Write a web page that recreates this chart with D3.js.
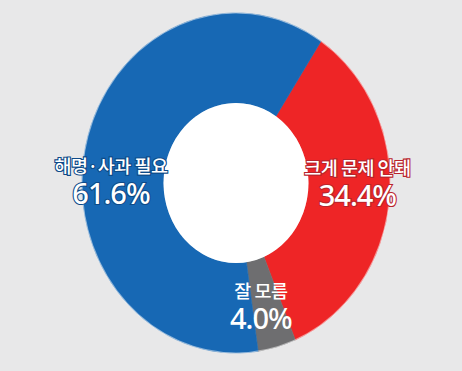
<!DOCTYPE html>
<html>
<head>
<meta charset="utf-8">
<script src="https://cdn.jsdelivr.net/npm/d3@7"></script>
<style>
    body { margin: 0; background: #e8e8e9; }
    svg { display: block; }
</style>
</head>
<body>
<div id="wrapper"></div>
<script>
// poll answers, clockwise from the top-right
const labels = ["크게 문제 안돼", "잘 모름", "해명·사과 필요"];
const values = [34.4, 4.0, 61.6];
const colors = ["#ee2526", "#6e6e70", "#1768b4"];
const strokes = ["#b8242c", "none", "#0e4a88"];

let dimension = {
    width: 462,
    height: 371,
    cx: 236,
    cy: 183,
    outer: 170,
    inner: 80,
    squeeze: 0.906
}

// where each label sits: angle (deg from top) and radius along the ring
const labelPlace = [
    { angle: 90, r: 134 },
    { angle: 167.4, r: 126 },
    { angle: 271, r: 138 }
];

function buildPlot() {
    d3.select("svg").remove();
    const svg = d3.select("#wrapper").append("svg")
        .attr("width", dimension.width)
        .attr("height", dimension.height);

    const data = labels.map((l, i) => ({ label: l, value: values[i], i: i }));

    const startAngle = 33.5 * Math.PI / 180;
    const pie = d3.pie()
        .sort(null)
        .value(d => d.value)
        .startAngle(startAngle)
        .endAngle(startAngle + 2 * Math.PI);

    const arc = d3.arc()
        .innerRadius(dimension.inner)
        .outerRadius(dimension.outer);

    const ring = svg.append("g")
        .attr("transform", `translate(${dimension.cx},${dimension.cy}) scale(${dimension.squeeze},1)`);

    ring.selectAll("path")
        .data(pie(data))
        .enter()
        .append("path")
        .attr("d", arc)
        .attr("fill", d => colors[d.data.i])
        .attr("stroke", d => colors[d.data.i])
        .attr("stroke-width", 0.6);

    // thin light rim
    ring.append("circle")
        .attr("r", dimension.outer)
        .attr("fill", "none")
        .attr("stroke", "#ffffff")
        .attr("stroke-opacity", 0.45)
        .attr("stroke-width", 1.2);

    ring.append("circle")
        .attr("r", dimension.inner)
        .attr("fill", "#ffffff");

    const text = svg.append("g")
        .attr("transform", `translate(${dimension.cx},${dimension.cy})`);

    const groups = text.selectAll("g.lbl")
        .data(data)
        .enter()
        .append("g")
        .attr("class", "lbl")
        .attr("transform", d => {
            const p = labelPlace[d.i];
            const a = p.angle * Math.PI / 180;
            const x = Math.sin(a) * p.r * dimension.squeeze;
            const y = -Math.cos(a) * p.r;
            return `translate(${x},${y})`;
        });

    groups.append("text")
        .attr("text-anchor", "middle")
        .attr("y", -8)
        .attr("font-family", "'Noto Sans CJK KR', 'Noto Sans', sans-serif")
        .attr("font-weight", 500)
        .attr("font-size", 18.5)
        .attr("letter-spacing", -0.5)
        .attr("fill", "#ffffff")
        .attr("stroke", d => strokes[d.i])
        .attr("stroke-width", 2.2)
        .attr("paint-order", "stroke")
        .text(d => d.label);

    groups.append("text")
        .attr("text-anchor", "middle")
        .attr("y", 23)
        .attr("font-family", "'Noto Sans', 'Open Sans', sans-serif")
        .attr("font-weight", 500)
        .attr("font-size", 29)
        .attr("letter-spacing", -1)
        .attr("fill", "#ffffff")
        .attr("stroke", d => strokes[d.i])
        .attr("stroke-width", 2.2)
        .attr("paint-order", "stroke")
        .text(d => d.value.toFixed(1) + "%");
}

buildPlot()
</script>
</body>
</html>
